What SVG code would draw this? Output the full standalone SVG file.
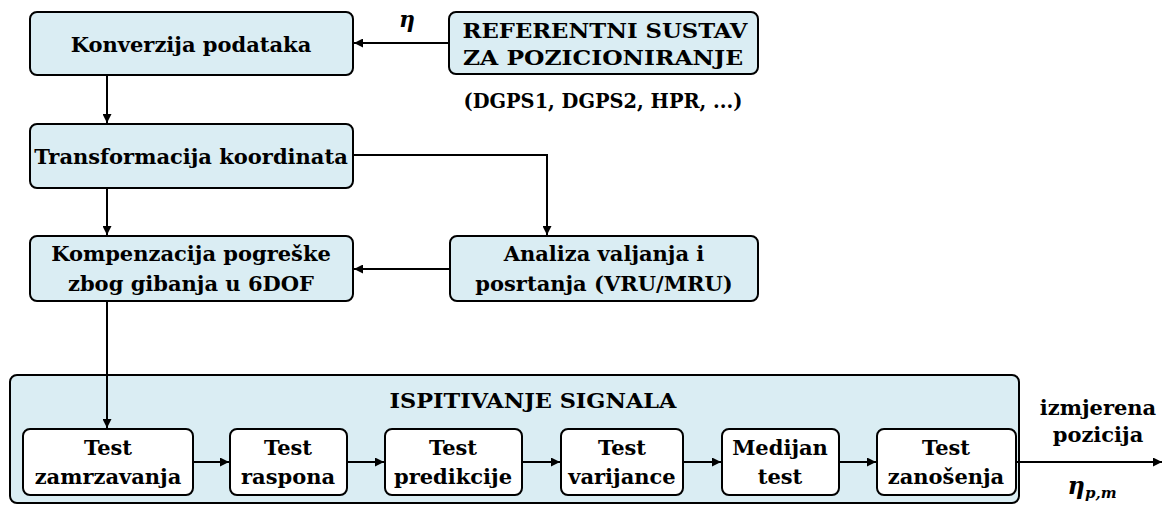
<svg xmlns="http://www.w3.org/2000/svg" width="1167" height="506" viewBox="0 0 1167 506">
<defs>
<style>
.b{fill:#daedf3;stroke:#000;stroke-width:2}
.w{fill:#fff;stroke:#000;stroke-width:2}
.t{font-family:"DejaVu Serif","Liberation Serif",serif;font-weight:bold;font-size:21px;fill:#000;text-anchor:middle}
.c{fill:none;stroke:#000;stroke-width:2}
.m{font-family:"DejaVu Serif","Liberation Serif",serif;font-style:italic;font-weight:bold;fill:#000;text-anchor:middle}
</style>
<marker id="a" viewBox="0 0 10 10" refX="10" refY="5" markerWidth="11" markerHeight="9" markerUnits="userSpaceOnUse" orient="auto"><path d="M0,0L10,5L0,10z" fill="#000"/></marker>
</defs>
<rect x="0" y="0" width="1167" height="506" fill="#fff"/>
<g id="ispitivanje">
<rect class="b" x="10" y="375" width="1009" height="128" rx="7"/>
<text class="t" x="533" y="408" textLength="287" lengthAdjust="spacingAndGlyphs">ISPITIVANJE SIGNALA</text>
</g>
<g id="konverzija"><rect class="b" x="30" y="12" width="323" height="63" rx="7"/><text class="t" x="191" y="52">Konverzija podataka</text></g>
<g id="referentni"><rect class="b" x="449" y="12" width="309" height="62" rx="7"/><text class="t" x="605" y="38" textLength="285" lengthAdjust="spacingAndGlyphs">REFERENTNI SUSTAV</text><text class="t" x="603" y="65" textLength="280" lengthAdjust="spacingAndGlyphs">ZA POZICIONIRANJE</text></g>
<g id="dgps"><text class="t" x="603" y="108" textLength="279" lengthAdjust="spacingAndGlyphs">(DGPS1, DGPS2, HPR, ...)</text></g>
<g id="transformacija"><rect class="b" x="30" y="124" width="323" height="64" rx="7"/><text class="t" x="191" y="164">Transformacija koordinata</text></g>
<g id="kompenzacija"><rect class="b" x="30" y="236" width="323" height="65" rx="7"/><text class="t" x="191" y="261">Kompenzacija pogreške</text><text class="t" x="191" y="291">zbog gibanja u 6DOF</text></g>
<g id="analiza"><rect class="b" x="450" y="236" width="308" height="65" rx="7"/><text class="t" x="604" y="261">Analiza valjanja i</text><text class="t" x="604" y="291">posrtanja (VRU/MRU)</text></g>
<g id="t1"><rect class="w" x="23" y="429" width="170" height="66" rx="7"/><text class="t" x="108" y="455">Test</text><text class="t" x="108" y="484">zamrzavanja</text></g>
<g id="t2"><rect class="w" x="230" y="429" width="117" height="66" rx="7"/><text class="t" x="288" y="455">Test</text><text class="t" x="288" y="484">raspona</text></g>
<g id="t3"><rect class="w" x="385" y="429" width="137" height="66" rx="7"/><text class="t" x="453" y="455">Test</text><text class="t" x="453" y="484">predikcije</text></g>
<g id="t4"><rect class="w" x="561" y="429" width="122" height="66" rx="7"/><text class="t" x="622" y="455">Test</text><text class="t" x="622" y="484">varijance</text></g>
<g id="t5"><rect class="w" x="722" y="429" width="117" height="66" rx="7"/><text class="t" x="780" y="455">Medijan</text><text class="t" x="780" y="484">test</text></g>
<g id="t6"><rect class="w" x="877" y="429" width="139" height="66" rx="7"/><text class="t" x="946" y="455">Test</text><text class="t" x="946" y="484">zanošenja</text></g>
<g id="out"><text class="t" x="1098" y="415">izmjerena</text><text class="t" x="1098" y="442">pozicija</text></g>
<g id="connectors">
<path class="c" marker-end="url(#a)" d="M449,43H354"/>
<path class="c" marker-end="url(#a)" d="M107,75V123"/>
<path class="c" marker-end="url(#a)" d="M107,188V235"/>
<path class="c" marker-end="url(#a)" d="M353,155H547V235"/>
<path class="c" marker-end="url(#a)" d="M450,269H354"/>
<path class="c" marker-end="url(#a)" d="M107,301V428"/>
<path class="c" marker-end="url(#a)" d="M193,462H229"/>
<path class="c" marker-end="url(#a)" d="M347,462H384"/>
<path class="c" marker-end="url(#a)" d="M522,462H560"/>
<path class="c" marker-end="url(#a)" d="M683,462H721"/>
<path class="c" marker-end="url(#a)" d="M839,462H876"/>
<path class="c" marker-end="url(#a)" d="M1016,462H1162"/>
<text class="m" x="407" y="27" font-size="22">η</text>
<text class="m" x="1092" y="494" font-size="24">η<tspan font-size="15" dy="4">p,m</tspan></text>
</g>
</svg>
